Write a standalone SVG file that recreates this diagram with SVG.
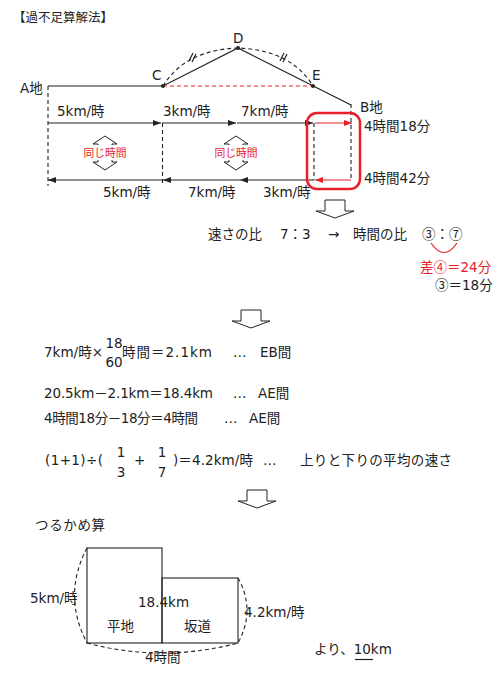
<svg xmlns="http://www.w3.org/2000/svg" width="504" height="676" viewBox="0 0 504 676">
<style>
text{font-family:"DejaVu Sans","Noto Sans CJK JP",sans-serif;font-size:13.5px;fill:#222}
.cj{font-family:"Noto Sans CJK JP",sans-serif}
.red{fill:#e8202a}
.sm{font-size:10.8px}
.ln{stroke:#222;stroke-width:1.2;fill:none}
.dash{stroke:#222;stroke-width:1.1;fill:none;stroke-dasharray:4 3}
.rdash{stroke:#e8202a;stroke-width:1.2;fill:none;stroke-dasharray:4 3}
.rln{stroke:#e8202a;stroke-width:1.2;fill:none}
.blk{fill:#fff;stroke:#222;stroke-width:1}
</style>
<defs>
<marker id="ah" viewBox="0 0 8 6" refX="8" refY="3" markerWidth="8" markerHeight="6" markerUnits="userSpaceOnUse" orient="auto"><path d="M0,0 L8,3 L0,6 z" fill="#222"/></marker>
<marker id="ahr" viewBox="0 0 8 6" refX="8" refY="3" markerWidth="8" markerHeight="6" markerUnits="userSpaceOnUse" orient="auto"><path d="M0,0 L8,3 L0,6 z" fill="#e8202a"/></marker>
<path id="downArrow" d="M0,0 h20 v11 h9 l-19,7 l-19,-7 h9 z" class="blk"/>
<path id="dbl" d="M0,-17 L12,-9 L7,-9 L7,9 L12,9 L0,17 L-12,9 L-7,9 L-7,-9 L-12,-9 z" class="blk"/>
</defs>

<text id="title" class="cj" x="13" y="22" style="font-size:12.5px">【過不足算解法】</text>

<!-- route: A - C - D - E - B -->
<g id="connectors">
<path class="ln" d="M48,86 H163 L238,48 L351,105"/>
<path class="rdash" d="M163,86 H313"/>
<path class="dash" d="M163,86 Q185,50 238,48 Q291,50 313,86"/>
<path class="ln" stroke-width="0.9" d="M189,61 L193,53 M192,62 L196,54 M280,61 L284,53 M283,62 L287,54"/>
<!-- verticals -->
<path class="dash" d="M48,86 V186"/>
<path class="dash" d="M162.5,123 V184"/>
<path class="dash" d="M314,123 V180"/>
<path class="dash" d="M351,104 V180"/>
<!-- going -->
<path class="ln" d="M48,123 H161" marker-end="url(#ah)"/>
<path class="ln" d="M162,123 H236" marker-end="url(#ah)"/>
<path class="ln" d="M237,123 H313" marker-end="url(#ah)"/>
<path class="rln" d="M315,123 H352" marker-end="url(#ahr)"/>
<!-- return -->
<path class="rln" d="M351,180 H315" marker-end="url(#ahr)"/>
<path class="ln" d="M314,180 H240" marker-end="url(#ah)"/>
<path class="ln" d="M240,180 H163" marker-end="url(#ah)"/>
<path class="ln" d="M162,180 H48" marker-end="url(#ah)"/>
</g>

<g id="points">
<circle cx="163" cy="86" r="2" fill="#222"/>
<circle cx="238" cy="48" r="2" fill="#222"/>
<circle cx="313" cy="86" r="2" fill="#222"/>
</g>

<g id="nodeA"><text x="20" y="93">A地</text></g>
<g id="nodeB"><text x="360" y="112">B地</text></g>
<g id="nodeC"><text x="152" y="80">C</text></g>
<g id="nodeD"><text x="233" y="43">D</text></g>
<g id="nodeE"><text x="312" y="80">E</text></g>

<g id="speeds">
<text x="57" y="116">5km/時</text>
<text x="163" y="116">3km/時</text>
<text x="241" y="116">7km/時</text>
<text x="103" y="197">5km/時</text>
<text x="188" y="197">7km/時</text>
<text x="263" y="197">3km/時</text>
<text x="364" y="131">4時間18分</text>
<text x="364" y="183">4時間42分</text>
</g>

<g id="same1">
<use href="#dbl" x="105" y="153"/>
<rect x="83" y="145" width="44" height="15" fill="#fff"/>
<text class="red sm" x="105" y="157" text-anchor="middle">同じ時間</text>
</g>
<g id="same2">
<use href="#dbl" x="236" y="153"/>
<rect x="214" y="145" width="44" height="15" fill="#fff"/>
<text class="red sm" x="236" y="157" text-anchor="middle">同じ時間</text>
</g>

<rect id="redbox" x="307" y="113" width="53" height="76" rx="10" fill="none" stroke="#e8202a" stroke-width="2.5"/>

<use href="#downArrow" x="325" y="200"/>

<g id="ratio">
<text x="208" y="239">速さの比</text>
<text x="280" y="239">7：3</text>
<text x="328" y="239">→</text>
<text x="353" y="239">時間の比</text>
<text class="cj" x="422" y="239">③：⑦</text>
<path class="rln" d="M431,243 Q444,262 457,243"/>
<text class="red" x="420" y="272">差<tspan class="cj">④</tspan>＝24分</text>
<text x="435" y="290"><tspan class="cj">③</tspan>＝18分</text>
</g>

<use href="#downArrow" x="241" y="310"/>

<g id="calc">
<text x="44" y="357" textLength="59">7km/時×</text>
<text x="114" y="348" text-anchor="middle">18</text>
<text x="114" y="367" text-anchor="middle">60</text>
<text x="122" y="357" textLength="90">時間＝2.1km</text>
<text x="233" y="357">…</text>
<text x="260" y="357">EB間</text>

<text x="44" y="398" textLength="169">20.5km－2.1km＝18.4km</text>
<text x="233" y="398">…</text>
<text x="258" y="398">AE間</text>

<text x="44" y="423" textLength="154">4時間18分－18分＝4時間</text>
<text x="224" y="423">…</text>
<text x="249" y="423">AE間</text>

<text x="45" y="465" textLength="58">(1+1)÷(</text>
<text x="121" y="457" text-anchor="middle">1</text>
<text x="121" y="477" text-anchor="middle">3</text>
<text x="134" y="465">+</text>
<text x="162" y="457" text-anchor="middle">1</text>
<text x="162" y="477" text-anchor="middle">7</text>
<text x="173" y="465" textLength="80">)＝4.2km/時</text>
<text x="263" y="465">…</text>
<text x="300" y="465" textLength="152">上りと下りの平均の速さ</text>
</g>

<use href="#downArrow" x="247" y="490"/>

<text id="tsuru" x="35" y="530" textLength="70">つるかめ算</text>

<g id="area">
<rect x="87" y="548" width="75" height="95" fill="none" stroke="#222" stroke-width="1.1"/>
<rect x="162" y="578" width="76" height="65" fill="none" stroke="#222" stroke-width="1.1"/>
<path class="dash" d="M87,548 Q62,595 87,643"/>
<path class="dash" d="M238,578 Q256,610 238,643"/>
<path class="dash" d="M87,643 Q162,663 238,643"/>
<text x="30" y="603">5km/時</text>
<text x="138" y="607">18.4km</text>
<text x="107" y="631">平地</text>
<text x="184" y="631">坂道</text>
<text x="244" y="617">4.2km/時</text>
<text x="145" y="662">4時間</text>
</g>

<g id="answer">
<text x="314" y="654">より、10km</text>
<path d="M355,659.5 H373" stroke="#222" stroke-width="1.2"/>
</g>
</svg>
